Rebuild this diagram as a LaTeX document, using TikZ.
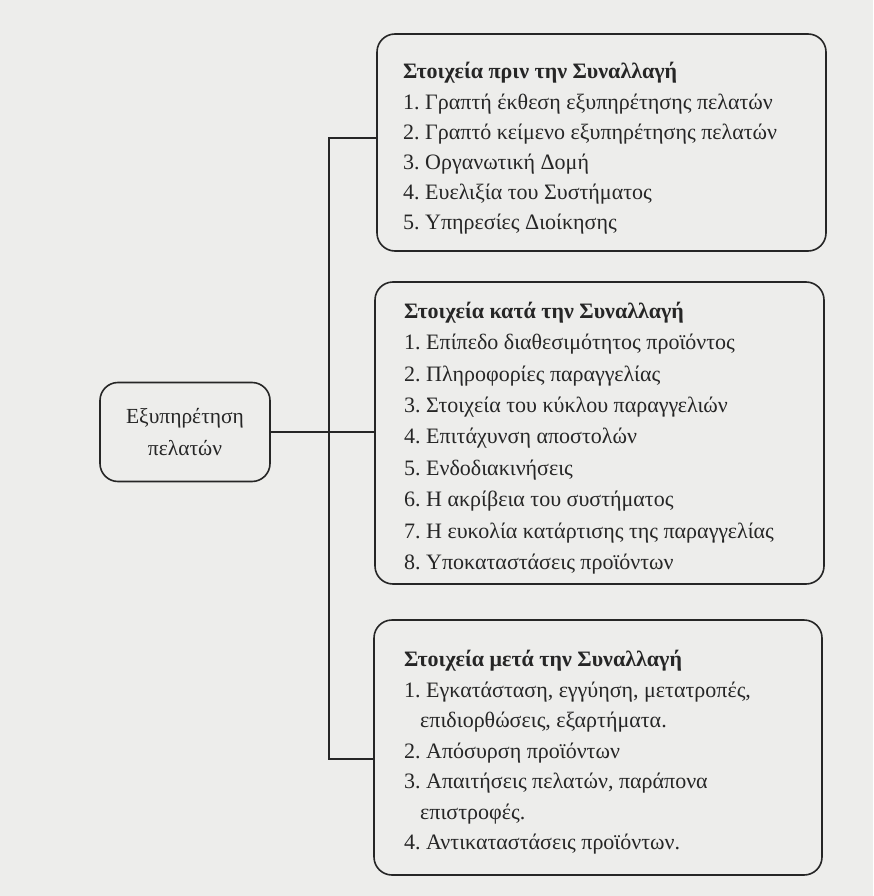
\documentclass[tikz,border=0pt]{standalone}
\usepackage{fontspec}
\setmainfont{Liberation Serif}
\frenchspacing
\definecolor{paper}{HTML}{EDEDEB}
\definecolor{ink}{HTML}{262626}
\tikzset{
  frame/.style={draw=ink, line width=1.6pt, rounded corners=18pt, fill=paper,
    inner sep=0pt},
  listing/.style={anchor=west, inner sep=0pt, align=left, text=ink},
  hub/.style={draw=ink, line width=1.6pt, rounded corners=18pt, fill=paper,
    align=center, text=ink, minimum width=170pt, minimum height=99pt},
  link/.style={draw=ink, line width=1.6pt},
}
\begin{document}
\begin{tikzpicture}[x=1pt,y=-1pt]
  \fill[paper] (0,0) rectangle (873,896);
  \useasboundingbox (0,0) rectangle (873,896);

  % central topic
  \node[hub, font=\fontsize{21.5}{32}\selectfont] (hub) at (185,432)
    {Εξυπηρέτηση\\πελατών};

  % the three group frames
  \node[frame, minimum width=449pt, minimum height=217pt] (pre)  at (601.5,142.5) {};
  \node[frame, minimum width=449pt, minimum height=302pt] (mid)  at (599.5,433) {};
  \node[frame, minimum width=448pt, minimum height=255pt] (post) at (598,747.5) {};

  % before the transaction
  \node[listing, font=\fontsize{22}{30.2}\selectfont] (pretxt) at (403,148.5)
    {\textbf{Στοιχεία πριν την Συναλλαγή}\\
     1. Γραπτή έκθεση εξυπηρέτησης πελατών\\
     2. Γραπτό κείμενο εξυπηρέτησης πελατών\\
     3. Οργανωτική Δομή\\
     4. Ευελιξία του Συστήματος\\
     5. Υπηρεσίες Διοίκησης};

  % during the transaction
  \node[listing, font=\fontsize{22}{31.4}\selectfont] (midtxt) at (404,438)
    {\textbf{Στοιχεία κατά την Συναλλαγή}\\
     1. Επίπεδο διαθεσιμότητος προϊόντος\\
     2. Πληροφορίες παραγγελίας\\
     3. Στοιχεία του κύκλου παραγγελιών\\
     4. Επιτάχυνση αποστολών\\
     5. Ενδοδιακινήσεις\\
     6. Η ακρίβεια του συστήματος\\
     7. Η ευκολία κατάρτισης της παραγγελίας\\
     8. Υποκαταστάσεις προϊόντων};

  % after the transaction
  \node[listing, font=\fontsize{22}{30.5}\selectfont] (posttxt) at (404,752.5)
    {\textbf{Στοιχεία μετά την Συναλλαγή}\\
     1. Εγκατάσταση, εγγύηση, μετατροπές,\\
     \hspace*{16pt}επιδιορθώσεις, εξαρτήματα.\\
     2. Απόσυρση προϊόντων\\
     3. Απαιτήσεις πελατών, παράπονα\\
     \hspace*{16pt}επιστροφές.\\
     4. Αντικαταστάσεις προϊόντων.};

  % trunk joining the three groups
  \coordinate (ttop) at (329,138);
  \coordinate (tbot) at (329,759);
  \draw[link] (ttop -| pre.west) -- (ttop) -- (tbot) -- (tbot -| post.west);
  \draw[link] (hub.east) -- (hub.east -| mid.west);
\end{tikzpicture}
\end{document}
